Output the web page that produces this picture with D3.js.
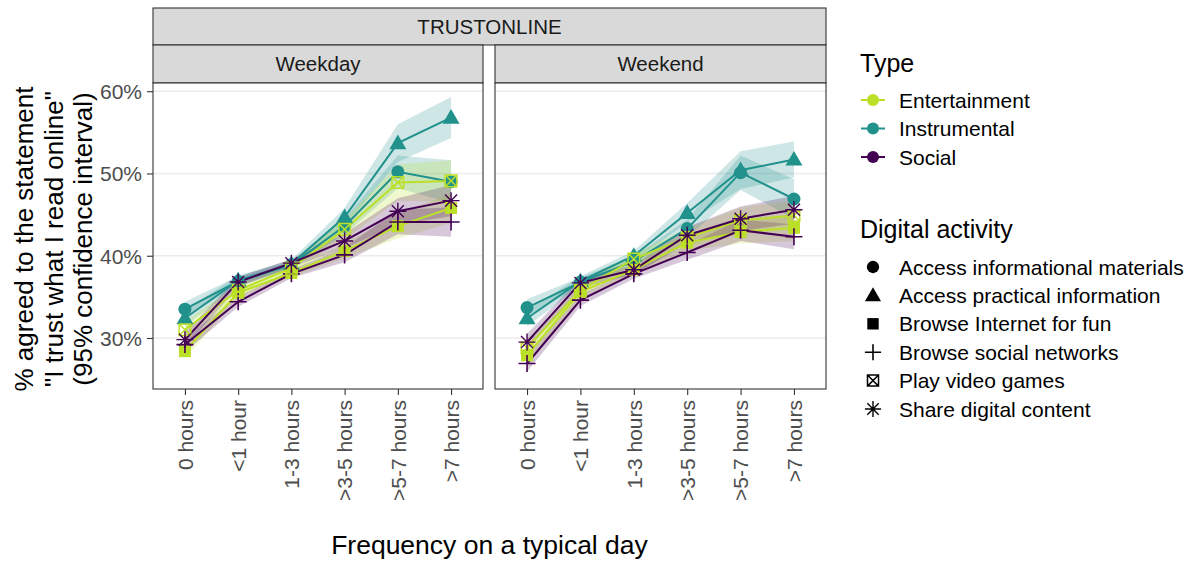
<!DOCTYPE html>
<html>
<head>
<meta charset="utf-8">
<script src="https://cdn.jsdelivr.net/npm/d3@7"></script>
<style>
  html, body { margin: 0; padding: 0; background: #ffffff; }
  svg { display: block; font-family: "Liberation Sans", Arial, sans-serif; }
</style>
</head>
<body>
<svg id="chart" width="1190" height="562"></svg>
<script>
// ---- data -------------------------------------------------------------
const hours = ["0 hours", "<1 hour", "1-3 hours", ">3-5 hours", ">5-7 hours", ">7 hours"];
const days = ["Weekday", "Weekend"];
const types = ["Entertainment", "Instrumental", "Social"];
const activities = [
  "Access informational materials",
  "Access practical information",
  "Browse Internet for fun",
  "Browse social networks",
  "Play video games",
  "Share digital content"
];
const activityType = ["Instrumental", "Instrumental", "Entertainment", "Social", "Entertainment", "Social"];
const yTicks = [30, 40, 50, 60];

// share agreeing (%), point estimate and 95% CI, by activity
const weekdayInfo      = [33.5, 36.9, 38.9, 43.6, 50.2, 49.0];
const weekdayInfoLo    = [32.6, 36.3, 38.4, 42.6, 48.2, 46.4];
const weekdayInfoHi    = [34.4, 37.5, 39.4, 44.6, 52.2, 51.6];
const weekdayPractical   = [32.4, 37.0, 39.0, 44.7, 53.7, 56.8];
const weekdayPracticalLo = [31.4, 36.4, 38.5, 43.6, 51.4, 54.3];
const weekdayPracticalHi = [33.4, 37.6, 39.5, 45.8, 56.0, 59.3];
const weekdayFun     = [28.4, 35.5, 37.9, 40.6, 43.6, 45.8];
const weekdayFunLo   = [27.5, 34.9, 37.4, 39.7, 42.1, 44.0];
const weekdayFunHi   = [29.3, 36.1, 38.4, 41.5, 45.1, 47.6];
const weekdayNetworks   = [29.2, 34.4, 37.8, 40.1, 44.1, 44.1];
const weekdayNetworksLo = [28.3, 33.8, 37.3, 39.2, 42.6, 42.3];
const weekdayNetworksHi = [30.1, 35.0, 38.3, 41.0, 45.6, 45.9];
const weekdayGames   = [31.0, 35.8, 38.5, 43.2, 48.9, 49.1];
const weekdayGamesLo = [30.0, 35.1, 37.9, 42.0, 46.7, 46.6];
const weekdayGamesHi = [32.0, 36.5, 39.1, 44.4, 51.1, 51.6];
const weekdayShare   = [29.8, 36.8, 39.1, 41.8, 45.4, 46.7];
const weekdayShareLo = [28.9, 36.2, 38.6, 40.9, 43.8, 44.8];
const weekdayShareHi = [30.7, 37.4, 39.6, 42.7, 47.0, 48.6];

const weekendInfo      = [33.7, 36.8, 39.3, 43.3, 50.1, 46.9];
const weekendInfoLo    = [32.7, 36.2, 38.7, 42.2, 48.0, 44.5];
const weekendInfoHi    = [34.7, 37.4, 39.9, 44.4, 52.2, 49.3];
const weekendPractical   = [32.4, 36.9, 40.0, 45.2, 50.4, 51.7];
const weekendPracticalLo = [31.4, 36.3, 39.4, 44.0, 48.1, 49.5];
const weekendPracticalHi = [33.4, 37.5, 40.6, 46.4, 52.7, 53.9];
const weekendFun     = [27.9, 35.6, 38.3, 41.6, 42.9, 43.4];
const weekendFunLo   = [26.9, 34.9, 37.7, 40.6, 41.5, 41.8];
const weekendFunHi   = [28.9, 36.3, 38.9, 42.6, 44.3, 45.0];
const weekendNetworks   = [26.9, 34.6, 37.8, 40.4, 43.1, 42.3];
const weekendNetworksLo = [25.9, 33.9, 37.2, 39.5, 41.8, 40.8];
const weekendNetworksHi = [27.9, 35.3, 38.4, 41.3, 44.4, 43.8];
const weekendGames   = [28.8, 35.8, 39.6, 42.2, 44.3, 44.9];
const weekendGamesLo = [27.8, 35.1, 39.0, 41.1, 42.7, 43.1];
const weekendGamesHi = [29.8, 36.5, 40.2, 43.3, 45.9, 46.7];
const weekendShare   = [29.5, 36.7, 38.3, 42.5, 44.5, 45.6];
const weekendShareLo = [28.5, 36.1, 37.7, 41.5, 43.0, 43.9];
const weekendShareHi = [30.5, 37.3, 38.9, 43.5, 46.0, 47.3];

// table: day -> activity -> [estimate, lower, upper]
const table = {
  Weekday: [
    [weekdayInfo, weekdayInfoLo, weekdayInfoHi],
    [weekdayPractical, weekdayPracticalLo, weekdayPracticalHi],
    [weekdayFun, weekdayFunLo, weekdayFunHi],
    [weekdayNetworks, weekdayNetworksLo, weekdayNetworksHi],
    [weekdayGames, weekdayGamesLo, weekdayGamesHi],
    [weekdayShare, weekdayShareLo, weekdayShareHi]
  ],
  Weekend: [
    [weekendInfo, weekendInfoLo, weekendInfoHi],
    [weekendPractical, weekendPracticalLo, weekendPracticalHi],
    [weekendFun, weekendFunLo, weekendFunHi],
    [weekendNetworks, weekendNetworksLo, weekendNetworksHi],
    [weekendGames, weekendGamesLo, weekendGamesHi],
    [weekendShare, weekendShareLo, weekendShareHi]
  ]
};

// ---- layout -----------------------------------------------------------
const svg = d3.select("#chart");
const panelTop = 83, panelBottom = 389;
const panelX = { Weekday: [153, 483], Weekend: [495, 826] };
const stripOuter = [8, 45];
const stripInner = [45, 83];

const typeColor = d3.scaleOrdinal()
  .domain(types)
  .range(["#bcdf27", "#21918c", "#440154"]);

const y = d3.scaleLinear().domain([23.8, 61.0]).range([panelBottom, panelTop]);

// marker shapes per activity
const shapeDraw = {
  "Access informational materials": (g, c, s) =>
    g.append("circle").attr("r", 6.5 * s).attr("fill", c),
  "Access practical information": (g, c, s) =>
    g.append("path").attr("d", d3.symbol(d3.symbolTriangle, 125 * s * s)()).attr("fill", c)
      .attr("transform", `translate(0,${1.2 * s})`),
  "Browse Internet for fun": (g, c, s) =>
    g.append("rect").attr("x", -6 * s).attr("y", -6 * s).attr("width", 12 * s).attr("height", 12 * s).attr("fill", c),
  "Browse social networks": (g, c, s) =>
    g.append("path").attr("d", `M${-8.5 * s},0H${8.5 * s}M0,${-8.5 * s}V${8.5 * s}`)
      .attr("stroke", c).attr("stroke-width", 1.6).attr("fill", "none"),
  "Play video games": (g, c, s) =>
    g.append("path").attr("d",
      `M${-5.8 * s},${-5.8 * s}H${5.8 * s}V${5.8 * s}H${-5.8 * s}Z` +
      `M${-5.8 * s},${-5.8 * s}L${5.8 * s},${5.8 * s}M${5.8 * s},${-5.8 * s}L${-5.8 * s},${5.8 * s}`)
      .attr("stroke", c).attr("stroke-width", 1.5).attr("fill", "none"),
  "Share digital content": (g, c, s) => {
    const r = 8.5 * s, d = r * Math.SQRT1_2;
    return g.append("path").attr("d",
      `M${-r},0H${r}M${-d},${-d}L${d},${d}M${d},${-d}L${-d},${d}M0,${-r}V${r}`)
      .attr("stroke", c).attr("stroke-width", 1.4).attr("fill", "none");
  }
};

// ---- strips -----------------------------------------------------------
svg.append("rect")
  .attr("x", panelX.Weekday[0]).attr("y", stripOuter[0])
  .attr("width", panelX.Weekend[1] - panelX.Weekday[0]).attr("height", stripOuter[1] - stripOuter[0])
  .attr("fill", "#d9d9d9").attr("stroke", "#333333").attr("stroke-width", 1.1);
svg.append("text")
  .attr("x", (panelX.Weekday[0] + panelX.Weekend[1]) / 2).attr("y", (stripOuter[0] + stripOuter[1]) / 2)
  .attr("dy", "0.36em").attr("text-anchor", "middle")
  .attr("font-size", 20.5).attr("fill", "#1a1a1a").text("TRUSTONLINE");

days.forEach(day => {
  const [x0, x1] = panelX[day];
  svg.append("rect")
    .attr("x", x0).attr("y", stripInner[0]).attr("width", x1 - x0).attr("height", stripInner[1] - stripInner[0])
    .attr("fill", "#d9d9d9").attr("stroke", "#333333").attr("stroke-width", 1.1);
  svg.append("text")
    .attr("x", (x0 + x1) / 2).attr("y", (stripInner[0] + stripInner[1]) / 2)
    .attr("dy", "0.36em").attr("text-anchor", "middle")
    .attr("font-size", 20.5).attr("fill", "#1a1a1a").text(day);
});

// ---- panels -----------------------------------------------------------
days.forEach((day, di) => {
  const [x0, x1] = panelX[day];
  const x = d3.scalePoint().domain(hours).range([x0, x1]).padding(0.6);
  const panel = svg.append("g");

  // background + grid
  panel.append("rect").attr("x", x0).attr("y", panelTop)
    .attr("width", x1 - x0).attr("height", panelBottom - panelTop).attr("fill", "#ffffff");
  panel.selectAll(".grid").data(yTicks).join("line")
    .attr("x1", x0).attr("x2", x1)
    .attr("y1", d => y(d)).attr("y2", d => y(d))
    .attr("stroke", "#ebebeb").attr("stroke-width", 1.4);

  const clip = `clip-${day}`;
  svg.append("clipPath").attr("id", clip).append("rect")
    .attr("x", x0).attr("y", panelTop).attr("width", x1 - x0).attr("height", panelBottom - panelTop);
  const plot = panel.append("g").attr("clip-path", `url(#${clip})`);

  const series = activities.map((a, ai) => {
    const [est, lo, hi] = table[day][ai];
    return {
      activity: a,
      color: typeColor(activityType[ai]),
      pts: hours.map((h, k) => ({ h, v: est[k], lo: lo[k], hi: hi[k] }))
    };
  });

  // confidence ribbons
  const area = d3.area().x(d => x(d.h)).y0(d => y(d.lo)).y1(d => y(d.hi));
  plot.selectAll(".ribbon").data(series).join("path")
    .attr("d", s => area(s.pts))
    .attr("fill", s => s.color).attr("fill-opacity", 0.22).attr("stroke", "none");

  // lines
  const line = d3.line().x(d => x(d.h)).y(d => y(d.v));
  plot.selectAll(".line").data(series).join("path")
    .attr("d", s => line(s.pts))
    .attr("fill", "none").attr("stroke", s => s.color).attr("stroke-width", 2);

  // points
  series.forEach(s => {
    s.pts.forEach(p => {
      const g = plot.append("g").attr("transform", `translate(${x(p.h)},${y(p.v)})`);
      shapeDraw[s.activity](g, s.color, 1);
    });
  });

  // panel border
  panel.append("rect").attr("x", x0).attr("y", panelTop)
    .attr("width", x1 - x0).attr("height", panelBottom - panelTop)
    .attr("fill", "none").attr("stroke", "#333333").attr("stroke-width", 1.1);

  // x axis
  const xAxis = svg.append("g").attr("transform", `translate(0,${panelBottom})`)
    .call(d3.axisBottom(x).tickSize(6).tickSizeOuter(0));
  xAxis.select(".domain").remove();
  xAxis.selectAll(".tick line").attr("stroke", "#333333").attr("stroke-width", 1.1);
  xAxis.selectAll(".tick text")
    .attr("font-family", "Liberation Sans, Arial, sans-serif")
    .attr("font-size", 21).attr("fill", "#4d4d4d")
    .attr("text-anchor", "end")
    .attr("transform", "rotate(-90)")
    .attr("x", -11).attr("y", 0).attr("dy", "0.35em");

  // y axis on the first panel only
  if (di === 0) {
    const yAxis = svg.append("g").attr("transform", `translate(${x0},0)`)
      .call(d3.axisLeft(y).tickValues(yTicks).tickFormat(d => d + "%").tickSize(6).tickSizeOuter(0));
    yAxis.select(".domain").remove();
    yAxis.selectAll(".tick line").attr("stroke", "#333333").attr("stroke-width", 1.1);
    yAxis.selectAll(".tick text")
      .attr("font-family", "Liberation Sans, Arial, sans-serif")
      .attr("font-size", 21).attr("fill", "#4d4d4d").attr("x", -11).attr("dy", "0.35em");
  }
});

// ---- axis titles ------------------------------------------------------
svg.append("text")
  .attr("x", (panelX.Weekday[0] + panelX.Weekend[1]) / 2).attr("y", 554)
  .attr("text-anchor", "middle").attr("font-size", 26.5).attr("fill", "#000000")
  .text("Frequency on a typical day");

const yTitle = ["% agreed to the statement", "\"I trust what I read online\"", "(95% confidence interval)"];
yTitle.forEach((t, i) => {
  svg.append("text")
    .attr("transform", `translate(${24 + i * 29.5},${(panelTop + panelBottom) / 2 + 3}) rotate(-90)`)
    .attr("text-anchor", "middle").attr("dy", "0.35em")
    .attr("font-size", 26).attr("fill", "#000000").text(t);
});

// ---- legends ----------------------------------------------------------
const legX = 860, keyX = 873, labX = 899;
svg.append("text").attr("x", legX).attr("y", 72).attr("font-size", 25).attr("fill", "#000000").text("Type");
types.forEach((t, i) => {
  const cy = 100 + i * 28.5;
  svg.append("line").attr("x1", keyX - 12).attr("x2", keyX + 12).attr("y1", cy).attr("y2", cy)
    .attr("stroke", typeColor(t)).attr("stroke-width", 2);
  svg.append("circle").attr("cx", keyX).attr("cy", cy).attr("r", 6).attr("fill", typeColor(t));
  svg.append("text").attr("x", labX).attr("y", cy).attr("dy", "0.36em")
    .attr("font-size", 21).attr("fill", "#000000").text(t);
});

svg.append("text").attr("x", legX).attr("y", 238).attr("font-size", 25).attr("fill", "#000000").text("Digital activity");
activities.forEach((a, i) => {
  const cy = 267 + i * 28.4;
  const g = svg.append("g").attr("transform", `translate(${keyX},${cy})`);
  shapeDraw[a](g, "#000000", 0.95);
  svg.append("text").attr("x", labX).attr("y", cy).attr("dy", "0.36em")
    .attr("font-size", 21).attr("fill", "#000000").text(a);
});
</script>
</body>
</html>
